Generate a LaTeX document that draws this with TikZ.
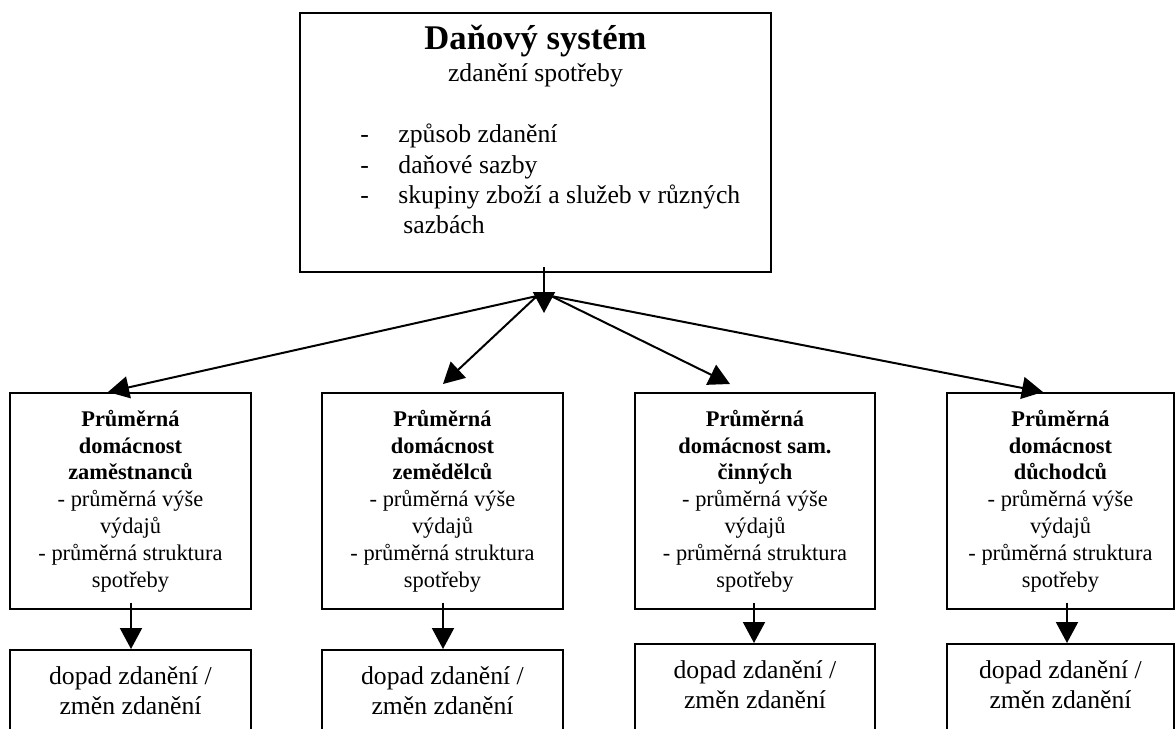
\documentclass[tikz,border=0pt]{standalone}
\usepackage{fontspec}
\setmainfont{Liberation Serif}
\usetikzlibrary{arrows.meta}
\newcommand{\ftitle}{\fontsize{17.3}{20}\selectfont\bfseries}
\newcommand{\ftop}{\fontsize{12.85}{15.2}\selectfont}
\newcommand{\fmid}{\fontsize{11.2}{13.4}\selectfont}
\newcommand{\fbot}{\fontsize{12.85}{15}\selectfont}
\begin{document}
\begin{tikzpicture}[x=0.5pt,y=-0.5pt,
  box/.style={draw, rectangle, line width=1pt, inner sep=0pt},
  arr/.style={line width=1pt, -{Triangle[length=10.5pt,width=11pt]}},
  txt/.style={inner sep=0pt}]
\clip (0,0) rectangle (1175,729);
% top box
\node[box, minimum width=235.5pt, minimum height=129.5pt] (top) at (535.5,142.5) {};
\node[txt, anchor=base, font=\ftitle] (title) at (535.5,49) {Daňový systém};
\node[txt, anchor=base, font=\ftop] (sub) at (535.5,81) {zdanění spotřeby};
\node[txt, anchor=base west, font=\ftop] (d1) at (360,142) {-};
\node[txt, anchor=base west, font=\ftop] (d2) at (360,173) {-};
\node[txt, anchor=base west, font=\ftop] (d3) at (360,203) {-};
\node[txt, anchor=base west, font=\ftop] (t1) at (398,142) {způsob zdanění};
\node[txt, anchor=base west, font=\ftop] (t2) at (398,173) {daňové sazby};
\node[txt, anchor=base west, font=\ftop] (t3) at (398,203) {skupiny zboží a služeb v různých};
\node[txt, anchor=base west, font=\ftop] (t4) at (403,233) {sazbách};
% middle boxes
\node[box, minimum width=120.5pt, minimum height=108pt, align=center, font=\fmid] (b1) at (130.5,501)
  {\textbf{Průměrná}\\ \textbf{domácnost}\\ \textbf{zaměstnanců}\\ - průměrná výše\\ výdajů\\ - průměrná struktura\\ spotřeby};
\node[box, minimum width=120.5pt, minimum height=108pt, align=center, font=\fmid] (b2) at (442.5,501)
  {\textbf{Průměrná}\\ \textbf{domácnost}\\ \textbf{zemědělců}\\ - průměrná výše\\ výdajů\\ - průměrná struktura\\ spotřeby};
\node[box, minimum width=120pt, minimum height=108pt, align=center, font=\fmid] (b3) at (755,501)
  {\textbf{Průměrná}\\ \textbf{domácnost sam.}\\ \textbf{činných}\\ - průměrná výše\\ výdajů\\ - průměrná struktura\\ spotřeby};
\node[box, minimum width=113.5pt, minimum height=108pt, align=center, font=\fmid] (b4) at (1060.5,501)
  {\textbf{Průměrná}\\ \textbf{domácnost}\\ \textbf{důchodců}\\ - průměrná výše\\ výdajů\\ - průměrná struktura\\ spotřeby};
% bottom boxes
\node[box, minimum width=120.5pt, minimum height=100pt] (c1) at (130.5,750) {};
\node[box, minimum width=120.5pt, minimum height=100pt] (c2) at (442.5,750) {};
\node[box, minimum width=120pt, minimum height=100pt] (c3) at (755,744) {};
\node[box, minimum width=113.5pt, minimum height=100pt] (c4) at (1060.5,744) {};
\node[txt, anchor=base, font=\fbot] (ct1) at (130.5,684) {\begin{tabular}[t]{@{}c@{}}dopad zdanění /\\ změn zdanění\end{tabular}};
\node[txt, anchor=base, font=\fbot] (ct2) at (442.5,684) {\begin{tabular}[t]{@{}c@{}}dopad zdanění /\\ změn zdanění\end{tabular}};
\node[txt, anchor=base, font=\fbot] (ct3) at (755,678) {\begin{tabular}[t]{@{}c@{}}dopad zdanění /\\ změn zdanění\end{tabular}};
\node[txt, anchor=base, font=\fbot] (ct4) at (1060.5,678) {\begin{tabular}[t]{@{}c@{}}dopad zdanění /\\ změn zdanění\end{tabular}};
% connectors
\coordinate (hub) at (544,313);
\coordinate (hubL) at (537,296);
\coordinate (hubR) at (551,296);
\draw[arr] ([shift={(8.5,-6)}]top.south) -- (hub);
\draw[arr] (hubL) -- ([shift={(-22.5,0)}]b1.north);
\draw[arr] (hubL) -- ([shift={(0.5,-8)}]b2.north);
\draw[arr] (hubR) -- ([shift={(-25,-8)}]b3.north);
\draw[arr] (hubR) -- ([shift={(-17.5,0)}]b4.north);
\draw[arr] ([shift={(0.5,-7)}]b1.south) -- ([shift={(0.5,0)}]c1.north);
\draw[arr] ([shift={(0.5,-7)}]b2.south) -- ([shift={(0.5,0)}]c2.north);
\draw[arr] ([shift={(-1,-7)}]b3.south) -- ([shift={(-1,0)}]c3.north);
\draw[arr] ([shift={(6.5,-7)}]b4.south) -- ([shift={(6.5,0)}]c4.north);
\end{tikzpicture}
\end{document}
